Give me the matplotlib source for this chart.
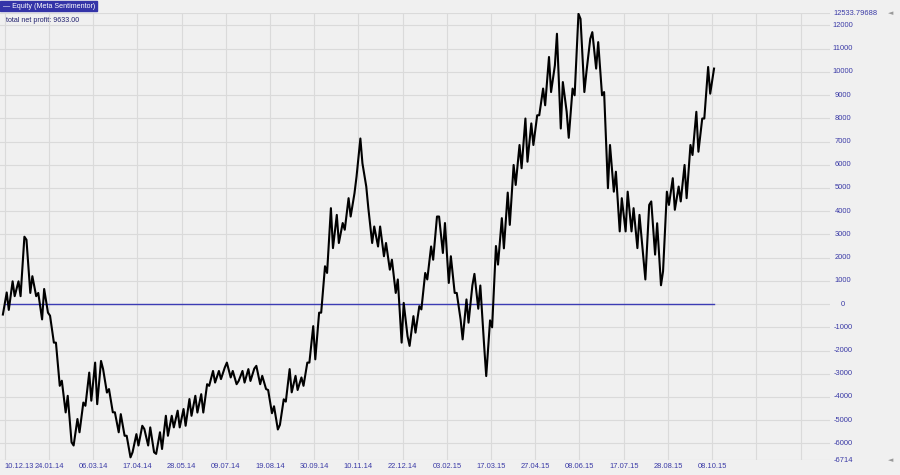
import numpy as np
import matplotlib.pyplot as plt
from matplotlib.patches import Rectangle
from matplotlib.transforms import blended_transform_factory

# data: equity curve, one high/low pair every 4 bars
bar_step = 4
eq_hi = [500, 980, 980, 2900, 2770, 1200, 480, 650, -500, -1660,
         -3300, -3950, -4950, -4240, -2950, -2520, -2450, -2800, -3660, -4660,
         -4740, -5670, -5600, -5240, -5380, -5310, -5520, -4810, -4810, -4590,
         -4520, -4090, -3950, -3880, -3450, -2880, -2880, -2730, -2520, -2880,
         -2880, -2800, -2780, -2660, -3090, -3700, -4400, -4100, -2800, -3090,
         -3160, -2520, -950, -370, 1630, 4130, 3840, 3490, 4560, 4770,
         7130, 6060, 4130, 3340, 3340, 2630, 1910, 1060, 50, -520,
         -90, 1340, 2480, 3770, 3770, 3490, 2060, 480, 200, 800,
         1300, 800, -700, 2500, 3700, 4800, 5990, 6850, 7990, 7780,
         8130, 9280, 10640, 10280, 11640, 9560, 9280, 12500, 12280, 11420,
         11710, 11280, 9130, 6850, 5700, 4560, 4840, 4130, 3840, 4270,
         4420, 3480, 4840, 5420, 5060, 5990, 6850, 8280, 7990, 10210,
         10140]
eq_lo = [-450, -250, 340, 340, 480, 340, -660, -370, -1660, -3520,
         -4665, -5950, -6090, -5520, -4380, -4160, -4310, -3810, -4660, -5520,
         -5670, -6600, -6380, -6090, -6090, -6380, -6450, -6240, -5670, -5310,
         -5310, -5240, -4810, -4670, -4670, -3520, -3380, -3230, -3160, -3450,
         -3310, -3380, -3310, -3450, -3660, -4700, -5400, -5200, -4200, -3800,
         -3700, -3520, -2520, -2380, -370, 1340, 2410, 2630, 3200, 3770,
         5490, 5060, 2630, 2480, 2060, 1480, 480, -1660, -1380, -1800,
         -1230, -230, 1060, 1910, 2200, 910, 480, -660, -1520, -800,
         -200, -1800, -3100, -1000, 1700, 2400, 3410, 5130, 5850, 6130,
         6850, 8130, 8560, 9130, 7560, 8280, 7160, 8990, 9130, 9990,
         10140, 8990, 4990, 4840, 3130, 3130, 3130, 2410, 2000, 1060,
         2130, 810, 1410, 4270, 4060, 4420, 4560, 6420, 6560, 7990,
         9060]

dates = ['10.12.13', '24.01.14', '06.03.14', '17.04.14', '28.05.14', '09.07.14',
         '19.08.14', '30.09.14', '10.11.14', '22.12.14', '03.02.15', '17.03.15',
         '27.04.15', '08.06.15', '17.07.15', '28.08.15', '08.10.15']
bars_per_tick = 30

y_min = -6714
y_max = 12533.79688
net_profit = 9633.00

bg = '#f0f0f0'
grid_col = '#dadada'
txt_col = '#3a3aa6'

fig = plt.figure(figsize=(9, 4.75), dpi=100, facecolor=bg)
ax = fig.add_axes([0, 15 / 475, 830 / 900, 447 / 475])
ax.set_facecolor(bg)
for s in ax.spines.values():
    s.set_visible(False)

x_max = 560
ax.set_xlim(-3.26, x_max)
ax.set_ylim(y_min, y_max)

# grid
yt = [y_min] + list(range(-6000, 12001, 1000)) + [y_max]
ax.set_yticks(yt)
ax.set_yticklabels([])
xt = list(range(0, x_max, bars_per_tick))
ax.set_xticks(xt)
ax.set_xticklabels([dates[i] if i < len(dates) else '' for i in range(len(xt))],
                   fontsize=5.4, color=txt_col, family='Liberation Sans')
ax.xaxis.get_ticklabels()[0].set_horizontalalignment('left')
ax.tick_params(length=0, pad=2.5)
ax.grid(True, color=grid_col, lw=0.8)
ax.set_axisbelow(True)

# y labels on the right
tr = blended_transform_factory(ax.transAxes, ax.transData)
for v in yt:
    if v == y_max:
        ax.text(833 / 830, v, '%.5f' % v, transform=tr, ha='left', va='center',
                fontsize=5.4, color=txt_col, family='Liberation Sans', clip_on=False)
    else:
        ax.text(843 / 830, v, '%d' % v, transform=tr, ha='center', va='center',
                fontsize=5.4, color=txt_col, family='Liberation Sans', clip_on=False)

# zero line
n = len(eq_hi)
bars = np.arange(n) * bar_step
ax.plot([0, bars[-1] + 1], [0, 0], color='#3c3cb4', lw=1, zorder=2)

# equity: each group drawn as a low->high stroke in the direction of the trend,
# strokes joined into one jagged line
mid = [(h + l) / 2 for h, l in zip(eq_hi, eq_lo)]
xs, ys = [], []
for i in range(n):
    before = mid[max(i - 1, 0)]
    after = mid[min(i + 1, n - 1)]
    if after >= before:
        a, b = eq_lo[i], eq_hi[i]
    else:
        a, b = eq_hi[i], eq_lo[i]
    xs += [bars[i] - 1.3, bars[i] + 1.3]
    ys += [a, b]
ax.plot(xs, ys, color='black', lw=1.5, zorder=3)

# legend box and header text
fig.patches.append(Rectangle((0, 1 - 11 / 475), 97 / 900, 10 / 475,
                             transform=fig.transFigure, color='#3434a8'))
fig.text(3 / 900, 1 - 6 / 475, '\u2014 Equity (Meta Sentimentor)', color='white',
         fontsize=5.1, va='center', ha='left', family='Liberation Sans')
fig.text(6 / 900, 1 - 20 / 475, 'total net profit: %.2f' % net_profit, color='#20206e',
         fontsize=5.1, va='center', ha='left', family='Liberation Sans')

# small scroll markers on the right
fig.text(888 / 900, 1 - 13 / 475, '\u25c4', color='#999999', fontsize=5, va='center')
fig.text(888 / 900, 1 - 460 / 475, '\u25c4', color='#999999', fontsize=5, va='center')

fig.savefig('out.png', dpi=100, facecolor=bg)
